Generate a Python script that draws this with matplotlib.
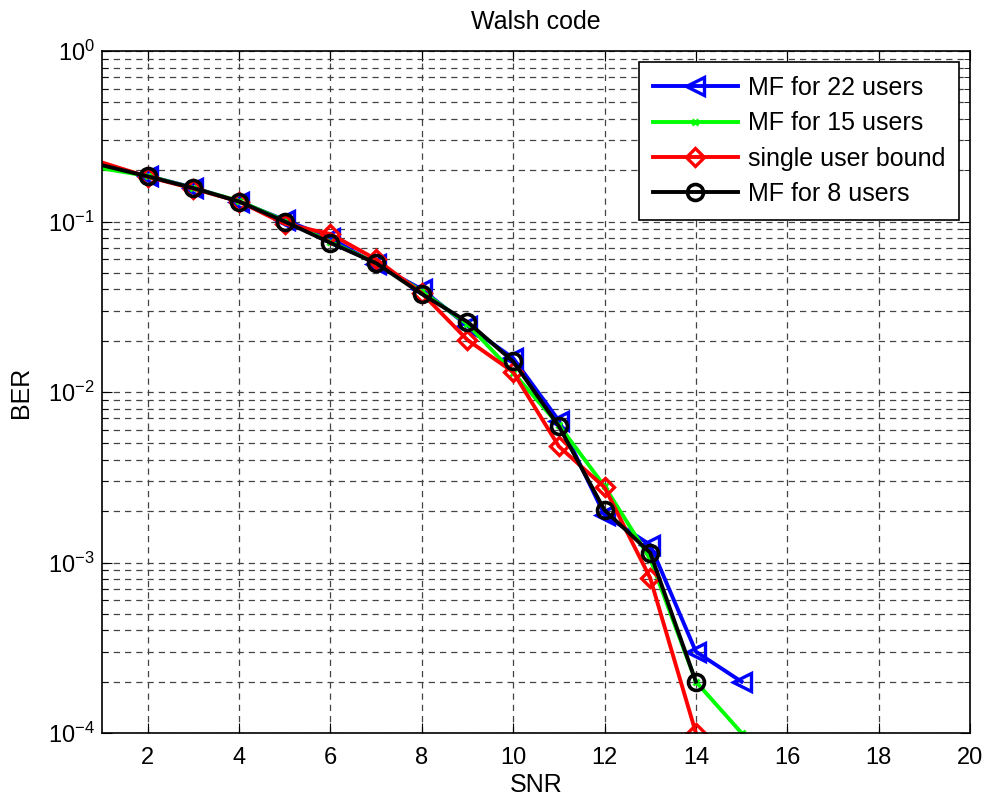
import numpy as np
import matplotlib
matplotlib.use('Agg')
import matplotlib.pyplot as plt
from matplotlib.ticker import LogLocator, MultipleLocator, NullFormatter

plt.rcParams['font.family'] = ['Liberation Sans', 'DejaVu Sans']
plt.rcParams['font.size'] = 18

snr_long = [1, 2, 3, 4, 5, 6, 7, 8, 9, 10, 11, 12, 13, 14, 15]
snr_short = [1, 2, 3, 4, 5, 6, 7, 8, 9, 10, 11, 12, 13, 14]

ber_mf22 = [0.212, 0.185, 0.158, 0.131, 0.102, 0.080, 0.056, 0.040, 0.0245,
            0.0158, 0.0068, 0.0019, 0.00127, 0.0003, 0.0002]
ber_mf15 = [0.205, 0.185, 0.157, 0.132, 0.101, 0.076, 0.057, 0.039, 0.025,
            0.013, 0.0064, 0.0028, 0.00105, 0.0002, 0.0001]
ber_single = [0.222, 0.183, 0.156, 0.131, 0.097, 0.0845, 0.060, 0.038, 0.0202,
              0.0131, 0.0048, 0.00276, 0.00081, 0.0001]
ber_mf8 = [0.214, 0.184, 0.157, 0.131, 0.100, 0.075, 0.057, 0.0376, 0.0258,
           0.0151, 0.0063, 0.00203, 0.00114, 0.0002]

fig = plt.figure(figsize=(9.89, 8.01), dpi=100)
ax = fig.add_axes([0.1031, 0.0849, 0.8777, 0.8514])

mk = slice(1, None)
ax.semilogy(snr_long, ber_mf22, color='#0000ff', lw=2.8, marker='<', ms=13,
            mfc='none', mew=2.4, markevery=mk, label='MF for 22 users')
ax.semilogy(snr_long, ber_mf15, color='#00ff00', lw=2.8, marker='x', ms=5,
            mew=2, markevery=mk, label='MF for 15 users')
ax.semilogy(snr_short, ber_single, color='#ff0000', lw=2.8, marker='D', ms=9,
            mfc='none', mew=2.4, markevery=mk, label='single user bound')
ax.semilogy(snr_short, ber_mf8, color='black', lw=2.8, marker='o', ms=11.5,
            mfc='none', mew=2.6, markevery=mk, label='MF for 8 users')

ax.set_xlim(1, 20)
ax.set_ylim(1e-4, 1)
ax.xaxis.set_major_locator(MultipleLocator(2))
ax.yaxis.set_major_locator(LogLocator(base=10, numticks=10))
ax.yaxis.set_minor_locator(LogLocator(base=10, subs=np.arange(2, 10), numticks=20))
ax.yaxis.set_minor_formatter(NullFormatter())

ax.grid(True, which='major', axis='both', color='#444444', ls=(0, (5, 4)), lw=0.9)
ax.grid(True, which='minor', axis='y', color='#444444', ls=(0, (5, 4)), lw=0.9)

ax.tick_params(which='both', direction='in', top=True, right=True)
ax.tick_params(axis='x', which='major', length=7, labelsize=17, pad=10)
ax.tick_params(axis='y', which='major', length=7, labelsize=17, pad=5)
ax.tick_params(which='minor', length=4)
for s in ax.spines.values():
    s.set_linewidth(1.2)

ax.set_title('Walsh code', fontsize=18, pad=16)
ax.set_xlabel('SNR', fontsize=18, labelpad=3)
ax.set_ylabel('BER', fontsize=18, labelpad=11)

leg = ax.legend(loc='upper right', fontsize=18, fancybox=False, framealpha=1,
                edgecolor='black', handlelength=3.4, handletextpad=0.4,
                borderaxespad=0.45, borderpad=0.55, labelspacing=0.45)
leg.get_frame().set_linewidth(1.2)

fig.savefig('out.png', dpi=100)
